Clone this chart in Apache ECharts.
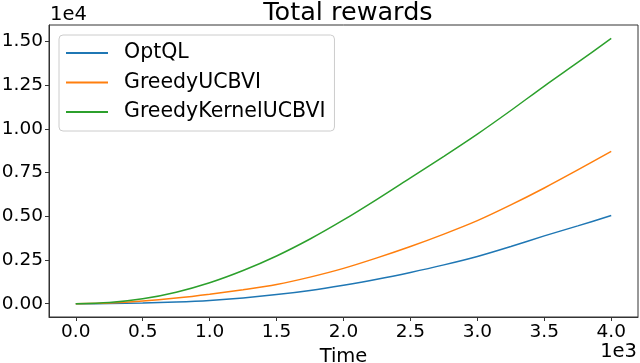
<!DOCTYPE html>
<html>
<head>
<meta charset="utf-8">
<script src="https://cdn.jsdelivr.net/npm/echarts@6/dist/echarts.min.js"></script>
<style>
  html, body { margin: 0; padding: 0; background: #fff; }
  #chart { width: 640px; height: 363px; }
</style>
</head>
<body>
<div id="chart"></div>
<script>
  // time steps (x) and cumulative rewards
  var times = [0, 250, 500, 750, 1000, 1250, 1500, 1750, 2000, 2250, 2500, 2750, 3000, 3250, 3500, 3750, 4000];
  var optQL = [0, 10, 40, 100, 190, 330, 520, 760, 1060, 1400, 1790, 2220, 2700, 3270, 3880, 4450, 5040];
  var greedyUCBVI = [0, 40, 150, 320, 540, 800, 1100, 1520, 2020, 2620, 3270, 3980, 4750, 5650, 6620, 7650, 8710];
  var greedyKernelUCBVI = [0, 70, 280, 660, 1200, 1900, 2730, 3700, 4790, 5970, 7200, 8430, 9700, 11050, 12450, 13800, 15170];

  var xTicks = [0, 500, 1000, 1500, 2000, 2500, 3000, 3500, 4000];
  var yTicks = [0, 2500, 5000, 7500, 10000, 12500, 15000];

  var font = 'DejaVu Sans';
  var axisColor = '#333';

  function pairs(ys) {
    return times.map(function (t, i) { return [t, ys[i]]; });
  }

  var chartDom = document.getElementById('chart');
  var myChart = echarts.init(chartDom);

  var option = {
    animation: false,
    color: ['#1f77b4', '#ff7f0e', '#2ca02c'],
    title: {
      text: 'Total rewards',
      left: 343,
      top: -5,
      textAlign: 'center',
      textStyle: { fontFamily: font, fontSize: 25.5, fontWeight: 'normal', color: '#000' }
    },
    grid: {
      left: 49, right: 2, top: 25, bottom: 46,
      outerBoundsMode: 'none',
      show: true, borderColor: axisColor, borderWidth: 1
    },
    legend: {
      orient: 'vertical',
      left: 59, top: 35,
      padding: [7, 9, 8, 7],
      itemGap: 7.5,
      itemWidth: 42, itemHeight: 2,
      icon: 'rect',
      backgroundColor: 'rgba(255,255,255,0.8)',
      borderColor: '#ccc', borderWidth: 1, borderRadius: 4,
      textStyle: { fontFamily: font, fontSize: 20.5, color: '#000', lineHeight: 22, padding: [0, 0, 0, 11] },
      data: ['OptQL', 'GreedyUCBVI', 'GreedyKernelUCBVI']
    },
    graphic: [
      { type: 'text', left: 50, top: 5, style: { text: '1e4', font: '19.5px "DejaVu Sans"', fill: '#000' } },
      { type: 'text', right: 3, top: 342, style: { text: '1e3', font: '19.5px "DejaVu Sans"', fill: '#000' } }
    ],
    xAxis: {
      type: 'value',
      min: -200, max: 4200,
      name: 'Time',
      nameLocation: 'middle',
      nameGap: 25,
      nameTextStyle: { fontFamily: font, fontSize: 19.5, color: '#000' },
      splitLine: { show: false },
      axisLine: { show: true, onZero: false, lineStyle: { color: axisColor } },
      axisTick: { show: true, length: 4, customValues: xTicks, lineStyle: { color: axisColor } },
      axisLabel: {
        customValues: xTicks, margin: 6,
        fontFamily: font, fontSize: 18.5, color: '#000',
        formatter: function (v) { return (v / 1000).toFixed(1); }
      }
    },
    yAxis: {
      type: 'value',
      min: -760, max: 15940,
      splitLine: { show: false },
      axisLine: { show: true, onZero: false, lineStyle: { color: axisColor } },
      axisTick: { show: true, length: 4, customValues: yTicks, lineStyle: { color: axisColor } },
      axisLabel: {
        customValues: yTicks, margin: 6,
        fontFamily: font, fontSize: 18.5, color: '#000',
        formatter: function (v) { return (v / 10000).toFixed(2); }
      }
    },
    series: [
      { name: 'OptQL', type: 'line', smooth: 0.3, symbol: 'none', lineStyle: { width: 1.5 }, data: pairs(optQL) },
      { name: 'GreedyUCBVI', type: 'line', smooth: 0.3, symbol: 'none', lineStyle: { width: 1.5 }, data: pairs(greedyUCBVI) },
      { name: 'GreedyKernelUCBVI', type: 'line', smooth: 0.3, symbol: 'none', lineStyle: { width: 1.5 }, data: pairs(greedyKernelUCBVI) }
    ]
  };

  option && myChart.setOption(option);
</script>
</body>
</html>
